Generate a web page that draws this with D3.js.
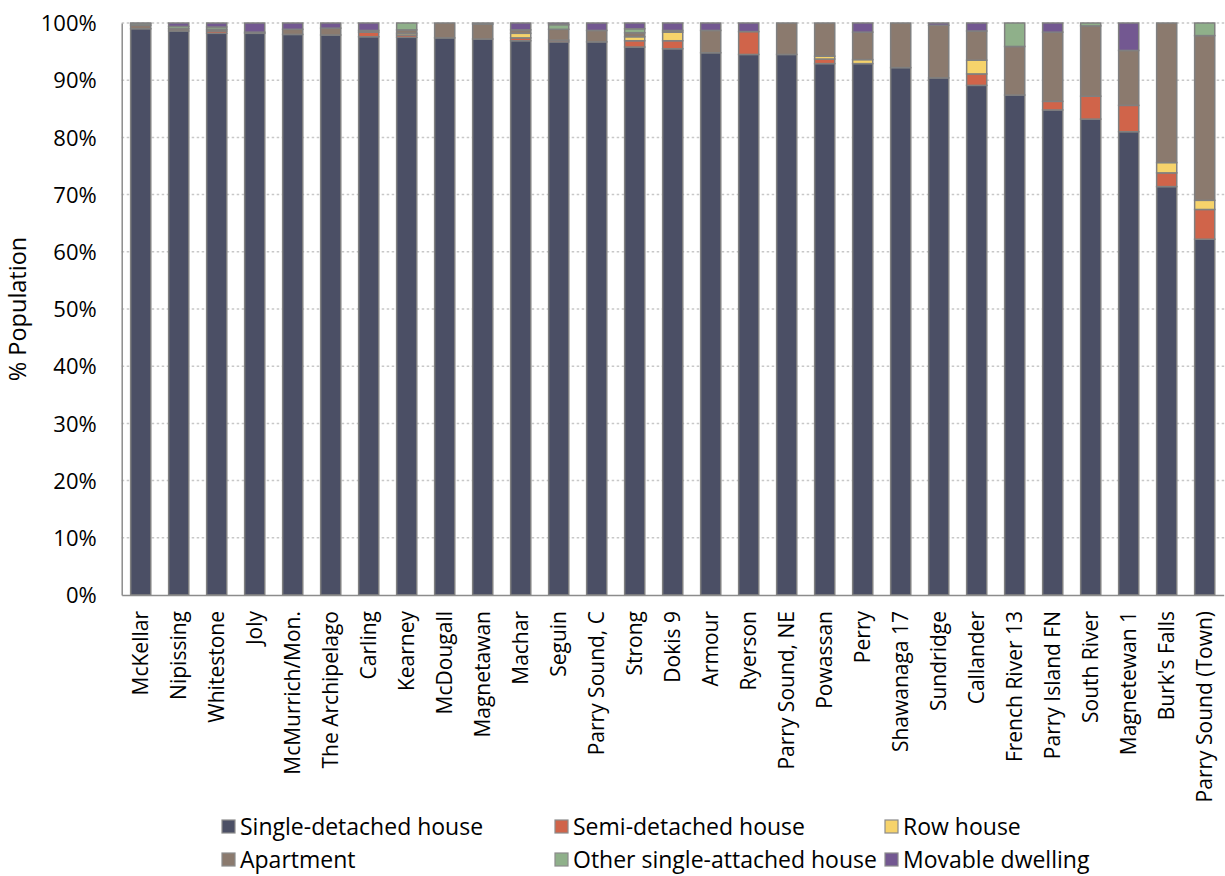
<!DOCTYPE html>
<html>
<head>
<meta charset="utf-8">
<script src="https://cdn.jsdelivr.net/npm/d3@7"></script>
<style>
  body { margin: 0; background: #fff; }
  text { font-family: "Segoe UI", "Open Sans", sans-serif; fill: #000; }
</style>
</head>
<body>
<svg id="chart" width="1225" height="876"></svg>
<script>
// data (% of population by dwelling type)
var categories = ["McKellar", "Nipissing", "Whitestone", "Joly", "McMurrich/Mon.", "The Archipelago",
  "Carling", "Kearney", "McDougall", "Magnetawan", "Machar", "Seguin", "Parry Sound, C", "Strong",
  "Dokis 9", "Armour", "Ryerson", "Parry Sound, NE", "Powassan", "Perry", "Shawanaga 17", "Sundridge",
  "Callander", "French River 13", "Parry Island FN", "South River", "Magnetewan 1", "Burk's Falls",
  "Parry Sound (Town)"];

var singleDetached = [99.0, 98.6, 98.2, 98.2, 98.0, 97.9, 97.6, 97.5, 97.4, 97.2, 96.9, 96.7, 96.7, 95.8,
  95.5, 94.8, 94.5, 94.5, 92.9, 92.9, 92.2, 90.4, 89.1, 87.4, 84.8, 83.2, 81.0, 71.4, 62.2];
var semiDetached = [0, 0, 0.4, 0, 0, 0, 0.8, 0.4, 0, 0, 0.5, 0.3, 0, 1.1,
  1.4, 0, 4.0, 0, 0.8, 0, 0, 0, 2.0, 0, 1.5, 4.0, 4.6, 2.4, 5.2];
var rowHouse = [0, 0, 0, 0, 0, 0, 0, 0.3, 0, 0, 0.8, 0, 0, 0.7,
  1.5, 0, 0, 0, 0.5, 0.7, 0, 0, 2.4, 0, 0, 0, 0, 1.8, 1.6];
var apartment = [0.6, 0.4, 0.3, 0.2, 0.9, 1.2, 0.3, 0.6, 2.6, 2.6, 0.6, 1.9, 2.0, 0.7,
  0.3, 3.9, 0, 5.5, 5.8, 4.8, 7.8, 9.2, 5.1, 8.5, 12.1, 12.3, 9.6, 24.4, 28.8];
var otherAttached = [0.3, 0.4, 0.4, 0, 0, 0, 0, 1.2, 0, 0.2, 0, 0.8, 0, 0.7,
  0, 0, 0, 0, 0, 0, 0, 0, 0, 4.1, 0, 0.5, 0, 0, 2.2];
var movable = [0.1, 0.6, 0.7, 1.6, 1.1, 0.9, 1.3, 0, 0, 0, 1.2, 0.3, 1.3, 1.0,
  1.3, 1.3, 1.5, 0, 0, 1.6, 0, 0.4, 1.4, 0, 1.6, 0, 4.8, 0, 0];

var seriesNames = ["Single-detached house", "Semi-detached house", "Row house",
  "Apartment", "Other single-attached house", "Movable dwelling"];
var seriesColors = ["#4b4f65", "#d0644a", "#f6d36b", "#8b7a6e", "#8fb08a", "#735891"];
var yTicks = [0, 10, 20, 30, 40, 50, 60, 70, 80, 90, 100];

var allSeries = [singleDetached, semiDetached, rowHouse, apartment, otherAttached, movable];

// build table for d3.stack
var table = categories.map(function(c, i) {
  var row = { name: c };
  seriesNames.forEach(function(s, j) { row[s] = allSeries[j][i]; });
  return row;
});

var svg = d3.select("#chart");
var plotLeft = 121.7, plotRight = 1223.7, plotTop = 23, plotBottom = 595;

var x = d3.scaleBand().domain(categories).range([plotLeft, plotRight])
  .paddingInner(0.47).paddingOuter(0.235);
var y = d3.scaleLinear().domain([0, 100]).range([plotBottom, plotTop]);

// gridlines
svg.append("g").selectAll("line").data(yTicks.filter(function(d) { return d > 0; })).enter()
  .append("line")
  .attr("x1", plotLeft).attr("x2", 1225)
  .attr("y1", function(d) { return y(d); }).attr("y2", function(d) { return y(d); })
  .attr("stroke", "#c8c8c8").attr("stroke-width", 1.5).attr("stroke-dasharray", "2.5,2.5");

// y axis
var yAxis = svg.append("g").attr("transform", "translate(" + plotLeft + ",0)")
  .call(d3.axisLeft(y).tickValues(yTicks).tickSize(0).tickPadding(25)
    .tickFormat(function(d) { return d + "%"; }));
yAxis.select(".domain").attr("stroke", "#8c8c8c").attr("stroke-width", 1.5);
yAxis.selectAll("text").style("font-size", "22px").attr("dy", "0.35em");

// stacked bars
var stacked = d3.stack().keys(seriesNames)(table);
svg.append("g").selectAll("g").data(stacked).enter().append("g")
  .attr("fill", function(d, i) { return seriesColors[i]; })
  .selectAll("rect").data(function(d) { return d.filter(function(p) { return p[1] - p[0] > 0; }); })
  .enter().append("rect")
  .attr("x", function(d) { return x(d.data.name); })
  .attr("width", x.bandwidth())
  .attr("y", function(d) { return y(d[1]); })
  .attr("height", function(d) { return y(d[0]) - y(d[1]); })
  .attr("stroke", "#808080").attr("stroke-width", 1.5);

// x axis
var xAxis = svg.append("g").attr("transform", "translate(0," + plotBottom + ")")
  .call(d3.axisBottom(x).tickSize(0).tickPadding(0));
xAxis.select(".domain").attr("stroke", "#8c8c8c").attr("stroke-width", 1.5);
xAxis.selectAll("text")
  .style("font-size", "21px")
  .attr("text-anchor", "end")
  .attr("transform", "rotate(-90)")
  .attr("x", -16).attr("y", 0).attr("dy", "0.35em");

// y title
svg.append("text")
  .attr("transform", "translate(26," + ((plotTop + plotBottom) / 2) + ") rotate(-90)")
  .attr("text-anchor", "middle")
  .style("font-size", "23.5px")
  .text("% Population");

// legend
var legendX = [222, 555, 885], legendY = [827, 860];
var legend = svg.append("g").selectAll("g").data(seriesNames).enter().append("g")
  .attr("transform", function(d, i) {
    return "translate(" + legendX[i % 3] + "," + legendY[Math.floor(i / 3)] + ")";
  });
legend.append("rect")
  .attr("x", 0).attr("y", -7).attr("width", 13).attr("height", 13)
  .attr("fill", function(d, i) { return seriesColors[i]; })
  .attr("stroke", "#8c8c8c").attr("stroke-width", 1.2);
legend.append("text")
  .attr("x", 18).attr("y", 0).attr("dy", "0.35em")
  .style("font-size", "23px")
  .text(function(d) { return d; });
</script>
</body>
</html>
